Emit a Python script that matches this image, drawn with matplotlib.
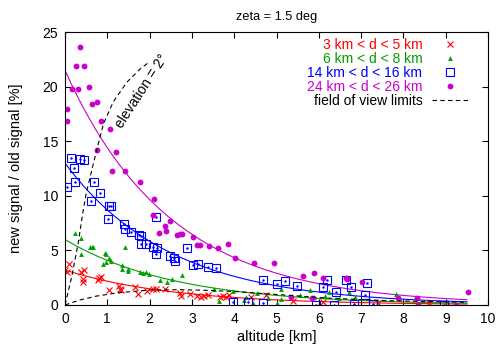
import numpy as np
import matplotlib
matplotlib.use('Agg')
import matplotlib.pyplot as plt

plt.rcParams['font.family'] = ['Liberation Sans', 'DejaVu Sans']
plt.rcParams['font.size'] = 10

# scatter data: altitude [km], new/old signal [%]
red_x = [0.0, 0.04, 0.10, 0.38, 0.45, 0.42, 0.43, 0.80, 0.84, 0.79, 1.04, 1.28, 1.30, 1.32,
         1.65, 1.73, 1.95, 2.07, 2.14, 2.36, 2.72, 2.74, 2.96, 3.11, 3.21, 3.29, 3.39,
         3.66, 3.73, 3.81, 3.88, 4.39, 4.75, 5.4, 6.1, 7.4, 8.6]
red_y = [3.2, 3.05, 3.75, 3.0, 3.2, 2.35, 2.13, 2.44, 2.59, 2.3, 1.37, 1.74, 1.49, 1.37,
         1.67, 1.0, 1.28, 1.43, 1.46, 1.43, 1.12, 0.82, 1.0, 0.82, 0.7, 0.85, 0.91,
         0.76, 0.82, 0.7, 0.91, 0.76, 0.91, 0.4, 0.3, 0.2, 0.15]

green_x = [0.24, 0.38, 0.59, 0.64, 0.67, 0.39, 0.95, 0.98, 1.43, 1.05, 0.98, 1.08, 0.89,
           1.34, 1.34, 1.48, 1.50, 1.77, 1.84, 1.91, 1.99, 2.25, 2.40, 2.54, 2.77,
           3.53, 3.98, 3.65, 4.29, 4.24, 4.44, 4.53, 4.79, 5.02, 5.10, 5.10, 5.56,
           5.80, 5.89, 6.15, 6.24, 6.48, 6.71, 6.86, 7.82]
green_y = [6.6, 6.1, 5.33, 5.33, 5.27, 4.63, 4.72, 4.66, 5.27, 4.27, 3.96, 4.05, 3.72,
           3.66, 3.26, 3.26, 3.14, 3.05, 2.9, 3.05, 2.8, 2.29, 2.13, 2.38, 2.74,
           1.43, 1.31, 0.39, 0.76, 0.46, 0.21, 1.12, 0.64, 0.21, 1.43, 0.52, 0.91,
           1.37, 0.7, 0.82, 1.22, 0.61, 1.16, 0.76, 0.98]

blue_x = [0.14, 0.35, 0.46, 0.21, 0.23, 0.04, 0.69, 0.83, 0.61, 1.05, 1.08, 1.01, 1.40,
          1.43, 1.55, 1.76, 1.80, 1.79, 1.91, 2.14, 2.09, 2.18, 2.15, 2.89, 2.48, 2.58,
          2.61, 3.02, 3.15, 3.37, 3.57, 3.98, 4.33, 4.69, 4.69, 5.0, 5.2, 5.48, 6.09,
          6.19, 5.93, 6.36, 6.40, 6.75, 6.64, 7.13, 7.08, 6.82, 7.27, 8.97]
blue_y = [13.5, 13.4, 13.25, 12.55, 11.3, 10.8, 11.25, 10.3, 9.57, 9.05, 9.05, 7.9, 7.4,
          7.0, 6.7, 6.4, 6.3, 5.55, 5.6, 8.07, 5.3, 5.25, 4.7, 5.2, 4.5, 4.35,
          4.05, 3.7, 3.75, 3.5, 3.35, 0.24, 0.24, 0.21, 2.25, 1.9, 2.17, 1.74, 1.62,
          2.29, 0.0, 0.0, 1.17, 1.62, 2.29, 2.04, 0.91, 0.06, 0.06, 0.0]

mag_x = [0.35, 0.27, 0.45, 0.16, 0.31, 0.56, 0.63, 0.75, 0.04, 0.04, 0.86, 1.06, 0.76,
         1.21, 1.10, 1.43, 1.77, 2.11, 2.09, 2.22, 2.37, 2.39, 2.48, 2.64, 2.72, 2.76,
         3.02, 3.11, 3.19, 3.40, 3.61, 3.86, 4.02, 4.46, 4.94, 5.63, 5.88, 6.09, 5.83,
         5.34, 6.64, 6.67, 7.03, 7.88, 8.31, 8.34, 9.24, 9.53]
mag_y = [23.6, 21.9, 21.9, 19.8, 19.8, 20.0, 18.4, 18.6, 18.0, 16.9, 16.9, 16.1, 14.2,
         14.0, 12.3, 12.3, 11.3, 9.7, 8.25, 6.6, 7.2, 6.8, 7.7, 6.4, 6.55, 6.55,
         6.2, 5.5, 5.5, 5.4, 5.25, 5.55, 4.35, 3.87, 3.84, 2.65, 2.9, 2.5, 0.67,
         0.7, 2.5, 2.4, 2.13, 0.67, 0.6, 0.0, 0.0, 1.16]

# exponential fits a*exp(-x/b)
fit_amp = [3.2, 6.0, 13.0, 21.5]
fit_len = [2.6, 2.6, 2.5, 2.5]

# field of view limits
fov_hi_x = [0, 0.16, 0.31, 0.42, 0.50, 0.63, 0.75, 0.91, 1.14, 1.46, 1.77, 1.97]
fov_hi_y = [0, 2.6, 5.6, 8.4, 10.2, 12.3, 14.2, 16.6, 18.6, 20.4, 21.6, 22.2]
fov_lo_x = [0, 0.35, 0.75, 1.26, 2.0, 2.7, 3.3, 4.06, 5.2, 6.2, 7.6, 8.5, 9.5]
fov_lo_y = [0, 0.46, 0.82, 1.12, 1.37, 1.40, 1.35, 1.22, 0.91, 0.63, 0.40, 0.32, 0.25]

labels = ['3 km < d < 5 km', '6 km < d < 8 km', '14 km < d < 16 km', '24 km < d < 26 km']
colors = ['#ff0000', '#00a000', '#0000ff', '#cc00cc']

fig = plt.figure(figsize=(4.96, 3.53), dpi=100)
ax = fig.add_axes([0.131, 0.136, 0.853, 0.773])

xs = np.linspace(0, 9.5, 200)
for a, b, c in zip(fit_amp, fit_len, colors):
    ax.plot(xs, a * np.exp(-xs / b), color=c, lw=0.8)

ax.plot(red_x, red_y, ls='none', marker='x', ms=4.5, mew=0.8, color=colors[0], label=labels[0])
ax.plot(green_x, green_y, ls='none', marker='^', ms=3.5, mew=0, color=colors[1], label=labels[1])
ax.plot(blue_x, blue_y, ls='none', marker='s', ms=5.3, mew=0.8, mfc='none', color=colors[2], label=labels[2])
ax.plot(blue_x, blue_y, ls='none', marker='.', ms=1.5, color=colors[2])
ax.plot(mag_x, mag_y, ls='none', marker='o', ms=4.2, mew=0, color=colors[3], label=labels[3])

ax.plot(fov_lo_x, fov_lo_y, color='black', ls=(0, (4, 3)), lw=0.8, label='field of view limits')
ax.plot(fov_hi_x, fov_hi_y, color='black', ls=(0, (4, 3)), lw=0.8)

ax.text(1.82, 19.6, 'elevation = 2°', rotation=57, ha='center', va='center', fontsize=10)

ax.set_xlim(0, 10)
ax.set_ylim(0, 25)
ax.set_xticks(range(0, 11))
ax.set_yticks(range(0, 26, 5))
ax.tick_params(direction='in', length=4, width=0.8, top=True, right=True, labelsize=10)
ax.tick_params(axis='x', pad=5)
ax.tick_params(axis='y', pad=5)
for s in ax.spines.values():
    s.set_linewidth(0.8)

ax.set_xlabel('altitude [km]', fontsize=10.5, labelpad=3)
ax.set_ylabel('new signal / old signal [%]', fontsize=10.5, labelpad=14)
ax.set_title('zeta = 1.5 deg', fontsize=9.2, pad=9)

leg = ax.legend(loc='upper right', bbox_to_anchor=(0.953, 0.978), frameon=False,
                markerfirst=False, numpoints=1, handlelength=2.6, handletextpad=0.7,
                labelspacing=0.0, borderpad=0, borderaxespad=0, fontsize=10,
                labelcolor='linecolor')

fig.savefig('out.png', dpi=100)
